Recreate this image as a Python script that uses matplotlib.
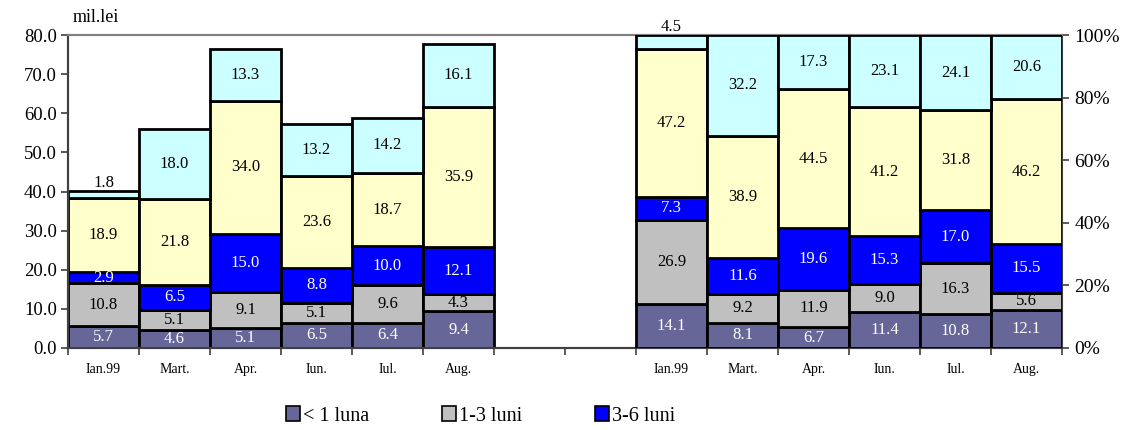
import matplotlib
matplotlib.use("Agg")
import matplotlib.pyplot as plt
from matplotlib.patches import Patch
import numpy as np

plt.rcParams['font.family'] = ['Liberation Serif', 'DejaVu Serif']

months = ["Ian.99", "Mart.", "Apr.", "Iun.", "Iul.", "Aug."]
series = ["< 1 luna", "1-3 luni", "3-6 luni", "6-12 luni", "> 12 luni"]
colors = ["#666699", "#C0C0C0", "#0000FF", "#FFFFCC", "#CCFFFF"]
text_colors = ["white", "black", "white", "black", "black"]

# mil. lei (left)
lt1 = [5.7, 4.6, 5.1, 6.5, 6.4, 9.4]
m1_3 = [10.8, 5.1, 9.1, 5.1, 9.6, 4.3]
m3_6 = [2.9, 6.5, 15.0, 8.8, 10.0, 12.1]
m6_12 = [18.9, 21.8, 34.0, 23.6, 18.7, 35.9]
gt12 = [1.8, 18.0, 13.3, 13.2, 14.2, 16.1]

# percent structure (right)
p_lt1 = [14.1, 8.1, 6.7, 11.4, 10.8, 12.1]
p_1_3 = [26.9, 9.2, 11.9, 9.0, 16.3, 5.6]
p_3_6 = [7.3, 11.6, 19.6, 15.3, 17.0, 15.5]
p_6_12 = [47.2, 38.9, 44.5, 41.2, 31.8, 46.2]
p_gt12 = [4.5, 32.2, 17.3, 23.1, 24.1, 20.6]

left_vals = [lt1, m1_3, m3_6, m6_12, gt12]
right_vals = [p_lt1, p_1_3, p_3_6, p_6_12, p_gt12]

fig = plt.figure(figsize=(11.31, 4.30), dpi=100)
ax = fig.add_axes([68/1131, 1-348/430, (1062-68)/1131, (348-35)/430])
ax2 = ax.twinx()

xl = np.arange(6)
xr = np.arange(8, 14)

def draw(axis, xs, vals, top_small):
    bottom = np.zeros(len(xs))
    for i, v in enumerate(vals):
        v = np.array(v)
        axis.bar(xs, v, bottom=bottom, width=1.0, color=colors[i],
                 edgecolor="black", linewidth=2, zorder=3)
        for j, x in enumerate(xs):
            if i == 4 and v[j] < top_small:
                y = bottom[j] + v[j]
                axis.annotate(f"{v[j]:.1f}", (x, y), xytext=(0, 0),
                              textcoords="offset points", ha="center",
                              va="bottom", fontsize=12, color=text_colors[i],
                              zorder=5)
            else:
                axis.text(x, bottom[j] + v[j]/2, f"{v[j]:.1f}", ha="center",
                          va="center", fontsize=12, color=text_colors[i],
                          zorder=5)
        bottom = bottom + v

draw(ax, xl, left_vals, 3)
draw(ax2, xr, right_vals, 5)

ax.set_xlim(-0.5, 13.5)
ax.set_ylim(0, 80)
ax2.set_ylim(0, 100)

ax.set_yticks(np.arange(0, 81, 10))
ax.set_yticklabels([f"{v:.1f}" for v in np.arange(0, 81, 10)], fontsize=13.5)
ax2.set_yticks(np.arange(0, 101, 20))
ax2.set_yticklabels([f"{v}%" for v in range(0, 101, 20)], fontsize=14)

ax.set_xticks(np.arange(-0.5, 14, 1))
ax.set_xticklabels([])
ax.set_xticks(list(xl) + list(xr), minor=True)
ax.set_xticklabels(months + months, minor=True, fontsize=10)
ax.tick_params(axis="x", which="minor", length=0, pad=11)
ax.tick_params(axis="x", which="major", length=5, width=1.2, color="#404040", direction="out")
ax.tick_params(axis="y", length=5, width=1.2, color="#404040", direction="out", pad=3)
ax2.tick_params(axis="y", length=5, width=1.2, color="#404040", direction="out", pad=4)

for a in (ax, ax2):
    a.spines["top"].set_color("#808080")
    a.spines["top"].set_linewidth(1.5)
    a.spines["left"].set_color("#404040")
    a.spines["left"].set_linewidth(1.5)
    a.spines["bottom"].set_color("#404040")
    a.spines["bottom"].set_linewidth(1.5)
    a.spines["right"].set_color("#404040")
    a.spines["right"].set_linewidth(1.5)
ax.spines["right"].set_visible(False)

fig.text(73/1131, 1-18/430, "mil.lei", fontsize=13, va="center", ha="left",
         family=['Liberation Serif', 'DejaVu Serif'])

handles = [Patch(facecolor=colors[i], edgecolor="black", linewidth=1.2) for i in range(3)]
fig.legend(handles, series[:3], loc="center", bbox_to_anchor=(0.425, 1-416/430),
           ncol=3, frameon=False,
           prop={'family': ['Liberation Serif', 'DejaVu Serif'], 'size': 14.5},
           handlelength=0.7, handleheight=0.7,
           handletextpad=0.15, columnspacing=3.6)

fig.savefig("out.png", dpi=100)
